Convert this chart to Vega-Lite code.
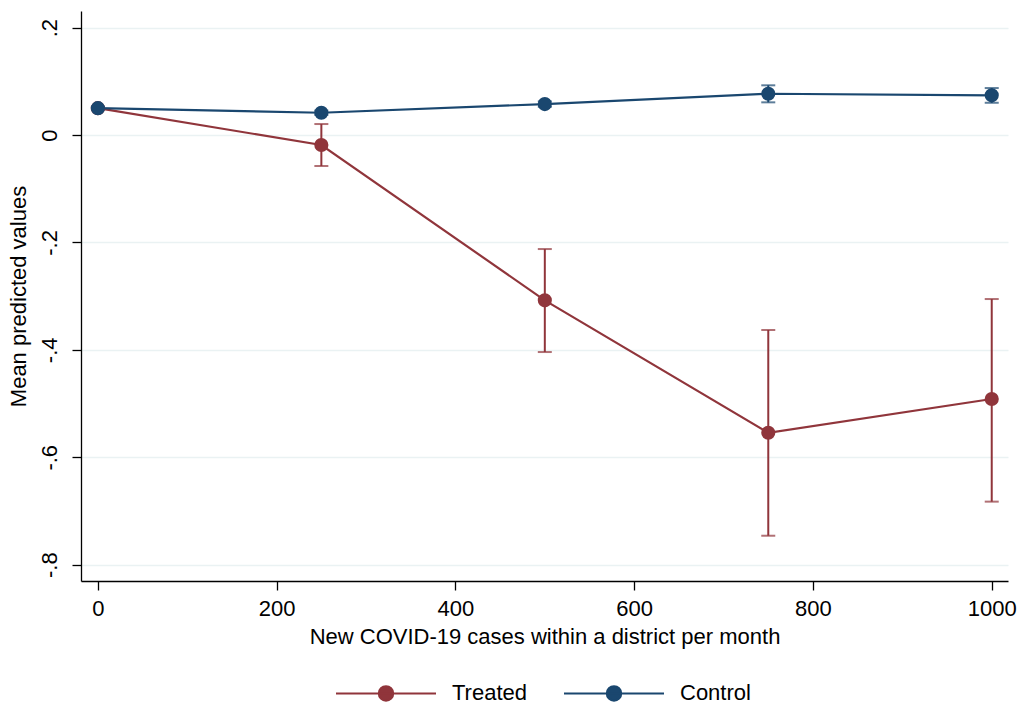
{
  "$schema": "https://vega.github.io/schema/vega-lite/v6.json",
  "width": 927,
  "height": 570,
  "autosize": {"type": "none"},
  "padding": {"left": 81, "top": 11, "right": 11, "bottom": 123},
  "background": "white",
  "config": {
    "view": {"stroke": null},
    "font": "Liberation Sans",
    "axis": {
      "domainColor": "black", "domainWidth": 1.3,
      "tickColor": "black", "tickWidth": 1.3, "tickSize": 9,
      "labelFont": "Liberation Sans", "labelFontSize": 22, "labelColor": "black",
      "titleFont": "Liberation Sans", "titleFontSize": 22, "titleFontWeight": "normal", "titleColor": "black"
    },
    "legend": {"labelFont": "Liberation Sans", "labelFontSize": 22, "labelColor": "black"}
  },
  "data": {
    "values": [
      {"series": "Treated", "cases": 0, "y": 0.0500, "lo": 0.0480, "hi": 0.0520},
      {"series": "Treated", "cases": 250, "y": -0.0186, "lo": -0.0577, "hi": 0.0205},
      {"series": "Treated", "cases": 500, "y": -0.3078, "lo": -0.4041, "hi": -0.2123},
      {"series": "Treated", "cases": 750, "y": -0.5544, "lo": -0.7462, "hi": -0.3631},
      {"series": "Treated", "cases": 1000, "y": -0.4916, "lo": -0.6827, "hi": -0.3054},
      {"series": "Control", "cases": 0, "y": 0.0500, "lo": 0.0480, "hi": 0.0520},
      {"series": "Control", "cases": 250, "y": 0.0415, "lo": 0.0375, "hi": 0.0455},
      {"series": "Control", "cases": 500, "y": 0.0577, "lo": 0.0527, "hi": 0.0627},
      {"series": "Control", "cases": 750, "y": 0.0769, "lo": 0.0609, "hi": 0.0926},
      {"series": "Control", "cases": 1000, "y": 0.0739, "lo": 0.0601, "hi": 0.0875}
    ]
  },
  "encoding": {
    "x": {
      "field": "cases", "type": "quantitative",
      "scale": {"domain": [-18.9, 1018.2], "nice": false, "zero": false},
      "axis": {"values": [0, 200, 400, 600, 800, 1000], "format": "d", "grid": false, "labelPadding": 8, "titlePadding": 7,
               "title": "New COVID-19 cases within a district per month"}
    },
    "color": {
      "field": "series", "type": "nominal",
      "scale": {"domain": ["Treated", "Control"], "range": ["#90353b", "#1a476f"]},
      "legend": {
        "title": null, "orient": "none", "direction": "horizontal",
        "legendX": 254, "legendY": 631,
        "symbolType": "M-1,0L1,0M-0.145,0A0.145,0.145,0,1,1,0.145,0A0.145,0.145,0,1,1,-0.145,0Z",
        "symbolSize": 10000, "symbolStrokeWidth": 2, "labelOffset": 15, "columnPadding": 32,
        "encode": {"symbols": {"update": {
          "fill": {"scale": "color", "field": "value"},
          "stroke": {"scale": "color", "field": "value"},
          "strokeWidth": {"value": 2}, "opacity": {"value": 1}
        }}}
      }
    }
  },
  "layer": [
    {
      "mark": {"type": "line", "strokeWidth": 2.2},
      "encoding": {
        "y": {
          "field": "y", "type": "quantitative",
          "scale": {"domain": [-0.8305, 0.231], "nice": false, "zero": false},
          "axis": {
            "values": [-0.8, -0.6, -0.4, -0.2, 0, 0.2],
            "labelAngle": -90, "labelPadding": 11, "titlePadding": 8,
            "labelExpr": "datum.value == 0 ? '0' : (datum.value < 0 ? '-' : '') + replace(format(abs(datum.value), '.1f'), '0.', '.')",
            "grid": true, "gridColor": "#eaf2f3", "gridWidth": 1.5,
            "title": "Mean predicted values"
          }
        }
      }
    },
    {
      "mark": {"type": "rule", "strokeWidth": 2},
      "encoding": {"y": {"field": "lo", "type": "quantitative"}, "y2": {"field": "hi"}}
    },
    {
      "mark": {"type": "tick", "orient": "horizontal", "size": 14, "thickness": 2},
      "encoding": {"y": {"field": "lo", "type": "quantitative"}}
    },
    {
      "mark": {"type": "tick", "orient": "horizontal", "size": 14, "thickness": 2},
      "encoding": {"y": {"field": "hi", "type": "quantitative"}}
    },
    {
      "mark": {"type": "point", "filled": true, "size": 200, "opacity": 1},
      "encoding": {"y": {"field": "y", "type": "quantitative"}}
    }
  ]
}
